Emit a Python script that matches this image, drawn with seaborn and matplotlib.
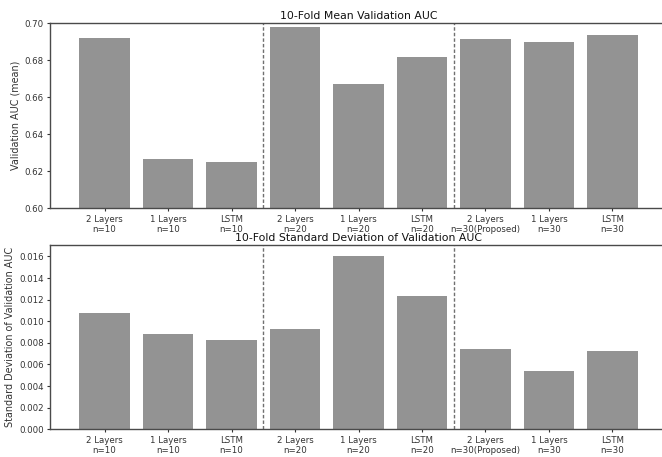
import matplotlib
matplotlib.use("Agg")
import matplotlib.pyplot as plt
import seaborn as sns
import pandas as pd

models = ["2 Layers", "1 Layers", "LSTM"] * 3
sizes = ["n=10"] * 3 + ["n=20"] * 3 + ["n=30(Proposed)", "n=30", "n=30"]
mean_auc = [0.6919, 0.6265, 0.6250, 0.6978, 0.6672, 0.6818, 0.6915, 0.6899, 0.6937]
std_auc = [0.01074, 0.00882, 0.00827, 0.00929, 0.01605, 0.01234, 0.00744, 0.00540, 0.00725]

labels = [f"{m}\n{s}" for m, s in zip(models, sizes)]
df = pd.DataFrame({"label": labels, "mean": mean_auc, "std": std_auc})

sns.set_style("ticks")
plt.rcParams["font.family"] = ["DejaVu Sans"]

W, H = 662, 457
fig = plt.figure(figsize=(W / 100, H / 100), dpi=100)

left = 50 / W
width = 617 / W
ax1 = fig.add_axes([left, 1 - 208.3 / H, width, 185 / H])
ax2 = fig.add_axes([left, 1 - 429.3 / H, width, 184.6 / H])

bar_color = "#939393"
spine_color = "#4a4a4a"

panels = [
    (ax1, "mean", "10-Fold Mean Validation AUC", "Validation AUC (mean)", (0.60, 0.70),
     [0.60, 0.62, 0.64, 0.66, 0.68, 0.70], "{:.2f}"),
    (ax2, "std", "10-Fold Standard Deviation of Validation AUC",
     "Standard Deviation of Validation AUC", (0.0, 0.01709),
     [0.000, 0.002, 0.004, 0.006, 0.008, 0.010, 0.012, 0.014, 0.016], "{:.3f}"),
]

for ax, col, title, ylabel, ylim, yticks, fmt in panels:
    sns.barplot(data=df, x="label", y=col, order=labels, color=bar_color,
                saturation=1, width=0.8, linewidth=0, ax=ax)
    ax.set_xlim(-0.86, 8.86)
    ax.set_ylim(*ylim)
    ax.set_yticks(yticks)
    ax.set_yticklabels([fmt.format(t) for t in yticks])
    for xpos in (2.5, 5.5):
        ax.axvline(xpos, color="#707070", linestyle="--", linewidth=1.0, dashes=(2.5, 1.5))
    ax.set_title(title, fontsize=7.85, pad=3, color="#111111")
    ax.set_ylabel(ylabel, fontsize=6.9, color="#333333", labelpad=3)
    ax.set_xlabel("")
    ax.tick_params(axis="both", labelsize=6.2, length=2.5, width=0.8,
                   colors="#333333", pad=2)
    for side in ("top", "bottom", "left"):
        ax.spines[side].set_color(spine_color)
        ax.spines[side].set_linewidth(1.0)
    ax.spines["right"].set_visible(False)

fig.savefig("out.png", dpi=100)
